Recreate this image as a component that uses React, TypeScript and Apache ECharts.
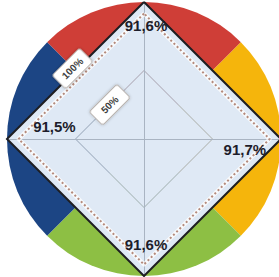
import React, { useEffect, useRef } from 'react';
import * as echarts from 'echarts';

// Radar axes, in ECharts order (counter-clockwise from top): top, left, bottom, right
const axisNames = ['Top', 'Left', 'Bottom', 'Right'];
const axisValues = [91.6, 91.5, 91.6, 91.7];
const axisMax = 100;

// Background quadrants (clockwise from top)
const sectorNames = ['Red', 'Yellow', 'Green', 'Blue'];
const sectorValues = [1, 1, 1, 1];
const sectorColors = ['#cf3e37', '#f5b50c', '#8dbf44', '#1c4584'];

// Ring tick labels
const ringRatios = [0.5, 1];
const ringLabels = ['50%', '100%'];

const CX = 144;
const CY = 139;
const R = 137;

const fmt = (v: number) => v.toFixed(1).replace('.', ',') + '%';

const labelPlacement = [
  { position: 'bottom', distance: 4, offset: [2, 0] },
  { position: 'right', distance: 14, offset: [0, -13] },
  { position: 'top', distance: 12, offset: [2, 0] },
  { position: 'left', distance: 3, offset: [0, 10] },
];

export default function App() {
  const ref = useRef<HTMLDivElement>(null);
  useEffect(() => {
    if (!ref.current) return;
    const chart = echarts.init(ref.current, null, { renderer: 'svg' });
    const indicator = axisNames.map((n) => ({ name: n, max: axisMax, min: 0 }));
    chart.setOption({
      animation: false,
      backgroundColor: '#ffffff',
      radar: [
        {
          center: [CX, CY],
          radius: R,
          startAngle: 90,
          shape: 'polygon',
          splitNumber: 2,
          indicator,
          z: 2,
          axisName: { show: false },
          axisLine: { lineStyle: { color: '#a9b4c2', width: 1 } },
          axisTick: { show: false },
          axisLabel: { show: false },
          splitLine: { lineStyle: { color: '#a9b4c2', width: 1 } },
          splitArea: { show: true, areaStyle: { color: ['#dfe9f5', '#dfe9f5'] } },
        },
        {
          center: [CX, CY],
          radius: R,
          startAngle: 90,
          shape: 'polygon',
          splitNumber: 1,
          indicator,
          z: 3,
          axisName: { show: false },
          axisLine: { show: false },
          axisTick: { show: false },
          axisLabel: { show: false },
          splitLine: { lineStyle: { color: '#1e1e22', width: 2 } },
          splitArea: { show: false },
        },
      ],
      series: [
        {
          type: 'pie',
          z: 0,
          center: [CX, CY],
          radius: R,
          startAngle: 135,
          clockwise: true,
          silent: true,
          label: { show: false },
          labelLine: { show: false },
          data: sectorNames.map((n, i) => ({
            name: n,
            value: sectorValues[i],
            itemStyle: { color: sectorColors[i] },
          })),
        },
        {
          type: 'radar',
          radarIndex: 0,
          z: 4,
          symbol: 'none',
          lineStyle: { color: 'rgba(255,255,255,0.75)', width: 4 },
          data: [{ value: axisValues }],
        },
        {
          type: 'radar',
          radarIndex: 0,
          z: 5,
          symbol: 'none',
          lineStyle: { color: '#b48a7c', width: 2, type: [2, 2.5] },
          data: [{ value: axisValues }],
        },
        {
          type: 'radar',
          radarIndex: 0,
          z: 6,
          symbol: 'circle',
          symbolSize: 1,
          itemStyle: { color: 'rgba(0,0,0,0)' },
          lineStyle: { width: 0, opacity: 0 },
          data: axisValues.map((_, i) => ({
            value: axisValues,
            label: {
              show: true,
              position: labelPlacement[i].position,
              distance: labelPlacement[i].distance,
              offset: labelPlacement[i].offset,
              fontFamily: 'Liberation Sans, Arial, sans-serif',
              fontWeight: 'bold',
              fontSize: 15,
              color: '#1d1d2b',
              formatter: (p: any) => (p.dimensionIndex === i ? fmt(p.value) : ''),
            },
          })),
        },
      ],
      graphic: ringRatios.map((r, i) => ({
        type: 'text',
        z: 20,
        x: CX - (r * R) / 2 - (i === 1 ? 3 : 0),
        y: CY - (r * R) / 2 - (i === 1 ? 2 : 0),
        rotation: Math.PI / 4,
        style: {
          text: ringLabels[i],
          align: 'center',
          verticalAlign: 'middle',
          fontFamily: 'Liberation Sans, Arial, sans-serif',
          fontSize: 10,
          fontWeight: 'bold',
          fill: '#3e3e3e',
          backgroundColor: '#ffffff',
          borderColor: '#b9b2ad',
          borderWidth: 1,
          borderRadius: 2,
          padding: i === 0 ? [4, 9] : [4, 6],
          shadowBlur: 3,
          shadowColor: 'rgba(0,0,0,0.25)',
        },
      })),
    });
    return () => chart.dispose();
  }, []);
  return (
    <div
      ref={ref}
      style={{ position: 'absolute', left: 0, top: 0, width: 279, height: 277 }}
    />
  );
}
